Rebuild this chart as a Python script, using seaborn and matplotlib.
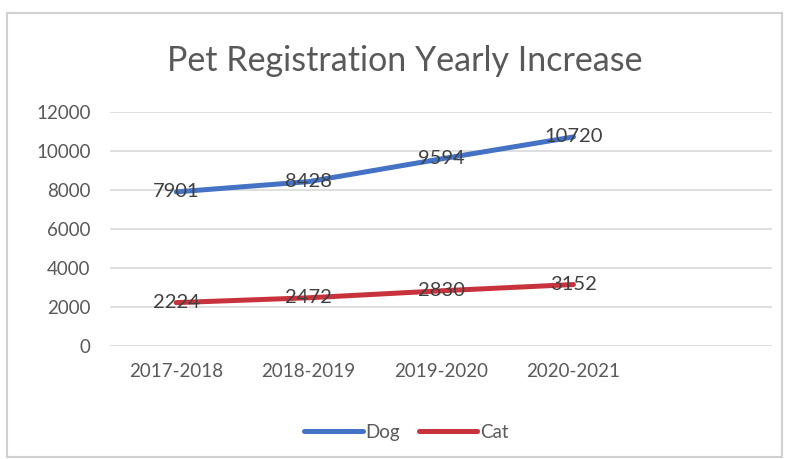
import matplotlib
matplotlib.use("Agg")
import matplotlib.pyplot as plt
import seaborn as sns
import pandas as pd
from matplotlib.patches import Rectangle

categories = ["2017-2018", "2018-2019", "2019-2020", "2020-2021"]
dog = [7901, 8428, 9594, 10720]
cat = [2224, 2472, 2830, 3152]
series_names = ["Dog", "Cat"]
y_ticks = [0, 2000, 4000, 6000, 8000, 10000, 12000]

df = pd.DataFrame({
    "Period": categories * 2,
    "Count": dog + cat,
    "Animal": [series_names[0]] * len(dog) + [series_names[1]] * len(cat),
})

sns.set_theme(style="white")
plt.rcParams["font.family"] = ["Lato", "DejaVu Sans"]

fig = plt.figure(figsize=(7.89, 4.59), dpi=100)
ax = fig.add_axes([0.1394, 0.2462, 0.8391, 0.5098])

palette = {"Dog": "#4472C4", "Cat": "#C8323C"}
sns.lineplot(data=df, x="Period", y="Count", hue="Animal", palette=palette,
             linewidth=3.6, ax=ax, sort=False, legend=True)

ax.set_xlim(-0.5, 4.5)
ax.set_ylim(0, 12000)
ax.set_yticks(y_ticks)
ax.set_yticklabels([str(t) for t in y_ticks])
ax.set_xticks(range(len(categories)))
ax.set_xticklabels(categories)
ax.tick_params(axis="both", length=0, labelsize=13.5, colors="#595959")
ax.tick_params(axis="x", pad=12)
ax.tick_params(axis="y", pad=14)
ax.set_xlabel("")
ax.set_ylabel("")
ax.grid(axis="y", color="#D9D9D9", linewidth=1.2)
ax.set_axisbelow(True)
for s in ax.spines.values():
    s.set_visible(False)

for series in (dog, cat):
    for i, v in enumerate(series):
        ax.text(i, v, str(v), ha="center", va="center", fontsize=14.5,
                color="#404040", zorder=5)

fig.text(0.513, 0.868, "Pet Registration Yearly Increase", ha="center",
         va="center", fontsize=24.5, color="#595959")

handles, labels = ax.get_legend_handles_labels()
ax.legend(handles, labels, loc="center", bbox_to_anchor=(0.515, 0.058),
          bbox_transform=fig.transFigure, ncol=2, frameon=False,
          fontsize=13.5, handlelength=3.1, handletextpad=0.15,
          columnspacing=1.0, labelcolor="#595959")

fig.patches.append(Rectangle((7 / 789, 2 / 459), 775 / 789, 444 / 459,
                             transform=fig.transFigure, fill=False,
                             edgecolor="#D0D0D0", linewidth=1.5))

fig.savefig("out.png", dpi=100, facecolor="white")
